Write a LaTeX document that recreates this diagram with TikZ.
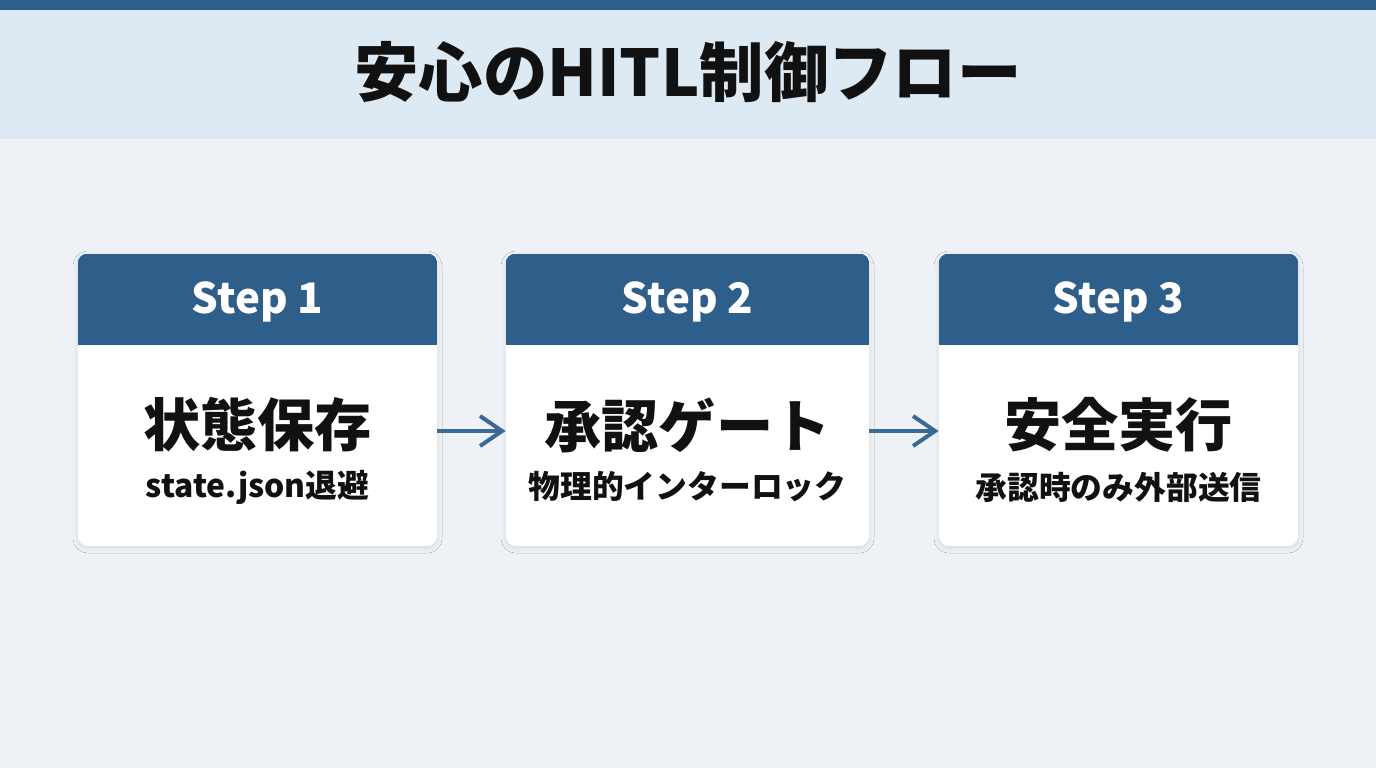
\documentclass[tikz,border=0pt]{standalone}
\usepackage{fontspec}
\setmainfont{Noto Sans CJK JP}
\usetikzlibrary{arrows.meta,shadows.blur}
\definecolor{topbar}{HTML}{2F5F8B}
\definecolor{band}{HTML}{DDE9F3}
\definecolor{bg}{HTML}{EEF2F6}
\definecolor{hdr}{HTML}{2E5E8A}
\definecolor{arr}{HTML}{3A6A94}
\definecolor{ink}{HTML}{111111}
\tikzset{
  card/.style={fill=white, rounded corners=5pt, minimum width=179.5pt, minimum height=146pt, inner sep=0pt,
    blur shadow={shadow blur steps=6, shadow xshift=0pt, shadow yshift=-1pt, shadow opacity=10, shadow blur radius=2.5pt}},
  steplabel/.style={text=white, font=\fontsize{21}{24}\selectfont\bfseries, anchor=center},
  maintext/.style={text=ink, font=\fontsize{28.6}{32}\selectfont\bfseries, anchor=center},
  subtext/.style={text=ink, font=\fontsize{15.9}{19}\selectfont\bfseries, anchor=center},
  flow/.style={arr, line width=2pt, -{Straight Barb[length=11pt,width=15pt,line width=2pt]}},
}
\begin{document}
\begin{tikzpicture}[x=0.5pt,y=-0.5pt]
\useasboundingbox (0,0) rectangle (1376,768);
\fill[bg] (0,0) rectangle (1376,768);
\fill[band] (0,10) rectangle (1376,139);
\fill[topbar] (0,0) rectangle (1376,10);
\node[text=ink, font=\fontsize{32.2}{36}\selectfont\bfseries] (title) at (688,72) {安心のHITL制御フロー};

\node[card] (b1) at (257.5,400) {};
\node[card, minimum width=181.5pt] (b2) at (687.5,400) {};
\node[card] (b3) at (1118.5,400) {};

\foreach \b in {b1,b2,b3}{
  \begin{scope}
    \clip[rounded corners=5pt] (\b.south west) rectangle (\b.north east);
    \fill[hdr] (\b.north west) rectangle ([yshift=-45.5pt]\b.north east);
  \end{scope}
}

\node[steplabel] (s1) at (257.5,302) {Step 1};
\node[steplabel] (s2) at (687.5,302) {Step 2};
\node[steplabel] (s3) at (1118.5,302) {Step 3};

\node[maintext] (m1) at (257.5,425) {状態保存};
\node[maintext] (m2) at (687.5,425) {承認ゲート};
\node[maintext] (m3) at (1118.5,425) {安全実行};

\node[subtext] (t1) at (257.5,487) {state.json退避};
\node[subtext] (t2) at (687.5,487) {物理的インターロック};
\node[subtext] (t3) at (1118.5,487) {承認時のみ外部送信};

\draw[flow] ([yshift=-15.5pt]b1.east) -- ([yshift=-15.5pt]b2.west);
\draw[flow] ([yshift=-15.5pt]b2.east) -- ([yshift=-15.5pt]b3.west);
\end{tikzpicture}
\end{document}
